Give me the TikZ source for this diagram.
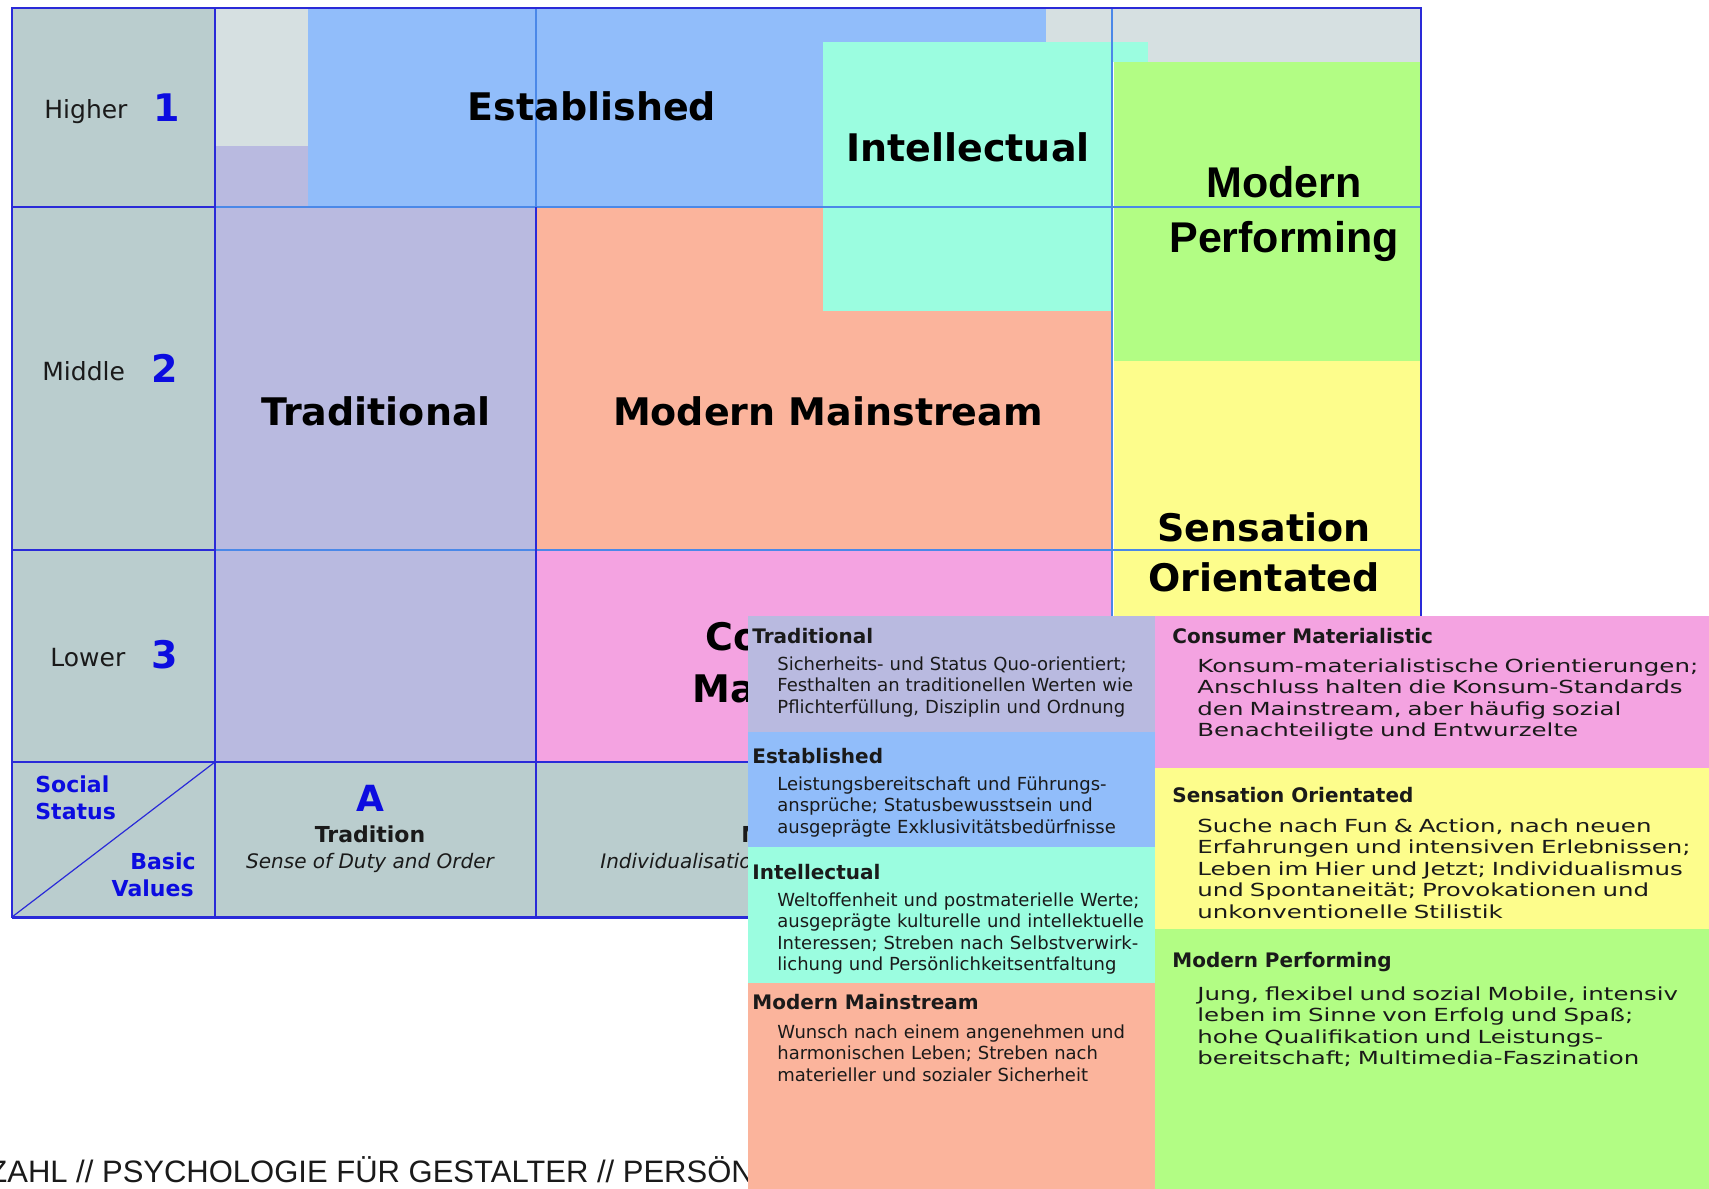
\documentclass[tikz,border=0pt]{standalone}
\usepackage{fontspec}
\setmainfont{DejaVu Sans}
\newfontfamily\arialf{Liberation Sans}
\newfontfamily\widef[FakeStretch=1.36]{DejaVu Sans}
\definecolor{cgray}{HTML}{BACDCE}
\definecolor{clight}{HTML}{D6E0E1}
\definecolor{clav}{HTML}{B9BAE0}
\definecolor{cblue}{HTML}{91BDFA}
\definecolor{caqua}{HTML}{9BFDE0}
\definecolor{csalm}{HTML}{FBB49C}
\definecolor{cpink}{HTML}{F4A3E1}
\definecolor{cgreen}{HTML}{B2FD84}
\definecolor{cyell}{HTML}{FDFD8C}
\definecolor{numblue}{HTML}{0C0CE0}
\definecolor{dline}{HTML}{2A2AD8}
\definecolor{lline}{HTML}{4A88E8}
\definecolor{txt}{HTML}{1A1A1A}
\tikzset{
  big/.style={font=\fontsize{19}{22}\selectfont\bfseries, inner sep=0, anchor=base, text=black},
  bigarial/.style={font=\arialf\fontsize{21.5}{24}\selectfont\bfseries, inner sep=0, anchor=base, text=black},
  rowlab/.style={font=\fontsize{12.5}{14}\selectfont, inner sep=0, anchor=base west, text=txt},
  rownum/.style={font=\fontsize{19}{22}\selectfont\bfseries, text=numblue, inner sep=0, anchor=base west},
  footblue/.style={font=\fontsize{11}{13}\selectfont\bfseries, text=numblue, inner sep=0},
  foothead/.style={font=\fontsize{11}{13}\selectfont\bfseries, text=txt, inner sep=0, anchor=base},
  footit/.style={font=\fontsize{10}{12}\selectfont\itshape, text=txt, inner sep=0, anchor=base},
  hd/.style={font=\fontsize{10}{12}\selectfont\bfseries, inner sep=0, anchor=base west, text=txt},
  bodyL/.style={font=\fontsize{9}{10.75}\selectfont, inner sep=0, anchor=base west, text width=300pt, align=left, text=txt},
  bodyR/.style={font=\widef\fontsize{9}{10.75}\selectfont, inner sep=0, anchor=base west, text width=300pt, align=left, text=txt},
  dl/.style={draw=dline, line width=1pt},
  ll/.style={draw=lline, line width=0.7pt}
}
\begin{document}
\begin{tikzpicture}[x=0.5pt,y=-0.5pt]
\useasboundingbox (0,0) rectangle (1709,1189);
\fill[white] (0,0) rectangle (1709,1189);
% --- grid fills ---
\fill[cgray] (12,8) rectangle (215,917);
\fill[cgray] (215,762) rectangle (1421,917);
\fill[clight] (215,8) rectangle (308,146);
\fill[clav] (215,146) rectangle (308,207);
\fill[cblue] (308,8) rectangle (1046,207);
\fill[clight] (1046,8) rectangle (1421,62);
\fill[csalm] (536,207) rectangle (1112,550);
\fill[caqua] (823,42) rectangle (1112,311);
\fill[caqua] (1112,42) rectangle (1148,62);
\fill[cgreen] (1114,62) rectangle (1421,361);
\fill[cyell] (1114,361) rectangle (1421,762);
\fill[clav] (215,207) rectangle (536,762);
\fill[cpink] (536,550) rectangle (1112,762);
% --- grid lines ---
\coordinate (fTL) at (12,8);
\coordinate (fBR) at (1421,917);
\path[ll] (215,207) -- (1421,207);
\path[ll] (215,550) -- (1421,550);
\path[ll] (536,8) -- (536,207);
\path[ll] (1112,8) -- (1112,917);
\path[dl] (12,207) -- (215,207);
\path[dl] (12,550) -- (215,550);
\path[dl] (215,8) -- (215,917);
\path[dl] (536,207) -- (536,917);
\path[dl] (12,762) -- (1421,762);
\path[draw=dline, line width=0.6pt] (12,917) -- (215,762);
\path[draw=dline, line width=1pt] (fTL) rectangle (fBR);
\path[draw=dline, line width=1.5pt] (12,917) -- (1421,917);
% --- row labels ---
\node[rowlab] (hi) at (44,118) {Higher};
\node[rownum] (n1) at (153,121) {1};
\node[rowlab] (mi) at (42,380) {Middle};
\node[rownum] (n2) at (151,382) {2};
\node[rowlab] (lo) at (50,666) {Lower};
\node[rownum] (n3) at (151,668) {3};
% --- segment labels ---
\node[big] (est) at (592,120) {Established};
\node[big] (int) at (968,161) {Intellectual};
\node[bigarial] (mod) at (1284,197) {Modern};
\node[bigarial] (perf) at (1284,252) {Performing};
\node[big] (trad) at (376,425) {Traditional};
\node[big] (mms) at (828,425) {Modern Mainstream};
\node[big] (sen) at (1264,541) {Sensation};
\node[big] (ori) at (1264,591) {Orientated};
\node[big, anchor=base west] (con) at (705,650) {Consumer};
\node[big, anchor=base west] (mat) at (692,702) {Materialistic};
% --- footer ---
\node[footblue, anchor=base west] (soc) at (35,792) {Social};
\node[footblue, anchor=base west] (sta) at (35,819) {Status};
\node[footblue, anchor=base east] (bas) at (196,869) {Basic};
\node[footblue, anchor=base east] (val) at (194,896) {Values};
\node[font=\fontsize{18}{20}\selectfont\bfseries, text=numblue, inner sep=0, anchor=base] (colA) at (370,811) {A};
\node[foothead] (tra) at (370,842) {Tradition};
\node[footit] (sdo) at (370,868) {Sense of Duty and Order};
\node[foothead, anchor=base west] (colBm) at (741,842) {M};
\node[footit, anchor=base west] (colBi) at (600,868) {Individualisatio};
% --- caption at the bottom ---
\node[font=\arialf\fontsize{15.5}{18}\selectfont, text=txt, inner sep=0, anchor=base west] (cap) at (-12,1182) {ZAHL // PSYCHOLOGIE FÜR GESTALTER // PERSÖN};
% --- overlay legend ---
\fill[clav] (748,616) rectangle (1155,732);
\fill[cblue] (748,732) rectangle (1155,847);
\fill[caqua] (748,847) rectangle (1155,983);
\fill[csalm] (748,983) rectangle (1155,1189);
\fill[cpink] (1155,616) rectangle (1709,768);
\fill[cyell] (1155,768) rectangle (1709,929);
\fill[cgreen] (1155,929) rectangle (1709,1189);
\node[hd] (h1) at (752,643) {Traditional};
\node[bodyL] (b1) at (777,670) {Sicherheits- und Status Quo-orientiert;\\Festhalten an traditionellen Werten wie\\Pflichterfüllung, Disziplin und Ordnung};
\node[hd] (h2) at (752,763) {Established};
\node[bodyL] (b2) at (777,790) {Leistungsbereitschaft und Führungs-\\ansprüche; Statusbewusstsein und\\ausgeprägte Exklusivitätsbedürfnisse};
\node[hd] (h3) at (752,879) {Intellectual};
\node[bodyL] (b3) at (777,906) {Weltoffenheit und postmaterielle Werte;\\ausgeprägte kulturelle und intellektuelle\\Interessen; Streben nach Selbstverwirk-\\lichung und Persönlichkeitsentfaltung};
\node[hd] (h4) at (752,1009) {Modern Mainstream};
\node[bodyL] (b4) at (777,1038) {Wunsch nach einem angenehmen und\\harmonischen Leben; Streben nach\\materieller und sozialer Sicherheit};
\node[hd] (h5) at (1172,643) {Consumer Materialistic};
\node[bodyR] (b5) at (1197,672) {Konsum-materialistische Orientierungen;\\Anschluss halten die Konsum-Standards\\den Mainstream, aber häufig sozial\\Benachteiligte und Entwurzelte};
\node[hd] (h6) at (1172,802) {Sensation Orientated};
\node[bodyR] (b6) at (1197,832) {Suche nach Fun \& Action, nach neuen\\Erfahrungen und intensiven Erlebnissen;\\Leben im Hier und Jetzt; Individualismus\\und Spontaneität; Provokationen und\\unkonventionelle Stilistik};
\node[hd] (h7) at (1172,967) {Modern Performing};
\node[bodyR] (b7) at (1197,1000) {Jung, flexibel und sozial Mobile, intensiv\\leben im Sinne von Erfolg und Spaß;\\hohe Qualifikation und Leistungs-\\bereitschaft; Multimedia-Faszination};
\end{tikzpicture}
\end{document}
